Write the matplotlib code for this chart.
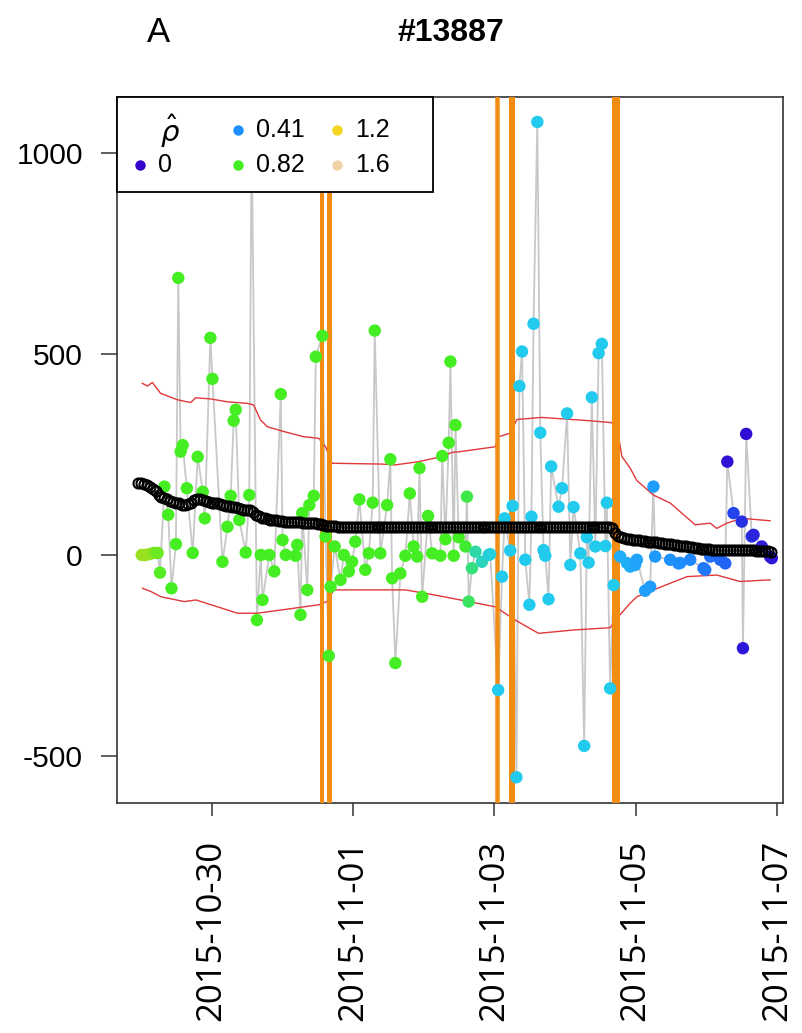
import numpy as np
import pandas as pd
import matplotlib
matplotlib.use("Agg")
import matplotlib.pyplot as plt
from matplotlib.colors import LinearSegmentedColormap, Normalize
from matplotlib.patches import Rectangle

plt.rcParams['axes.unicode_minus'] = False

# ---------------- data (hours since 2015-10-28 00:00) ----------------
BASE = pd.Timestamp("2015-10-28 00:00")

obs_hours = [
    24.3, 25.6, 27.0, 28.3, 29.7, 30.5, 32.0, 33.3, 34.4, 35.9,
    36.7, 37.5, 38.2, 39.6, 41.6, 43.3, 45.0, 45.7, 47.6, 48.3,
    51.7, 53.4, 54.5, 55.5, 56.2, 57.4, 59.6, 60.8, 61.6, 63.4,
    64.7, 65.3, 67.6, 69.3, 71.5, 72.1, 73.2, 76.5, 77.1, 78.2,
    78.8, 80.5, 81.2, 82.7, 83.4, 85.6, 86.7, 87.8, 88.4, 89.8,
    91.8, 92.9, 94.6, 95.7, 96.8, 98.2, 100.2, 101.4, 102.7, 103.4,
    105.3, 107.6, 108.7, 109.3, 110.4, 112.1, 113.8, 115.3, 116.6, 117.8,
    118.6, 119.5, 121.5, 122.9, 125.7, 126.3, 127.4, 128.5, 129.1, 130.2,
    130.8, 131.9, 134.2, 134.7, 135.3, 136.4, 137.6, 139.8, 142.1, 142.6,
    145.3, 146.6, 147.5, 149.4, 150.2, 151.5, 152.5, 153.4, 154.5, 155.9,
    156.6, 157.3, 158.6, 159.6, 160.7, 161.3, 162.4, 163.3, 165.8, 167.0,
    168.7, 169.8, 170.9, 173.2, 174.5, 175.4, 176.0, 177.1, 178.3, 179.4,
    180.5, 181.7, 182.2, 183.3, 184.5, 186.7, 189.0, 190.1, 191.8, 192.4,
    195.2, 196.9, 198.0, 198.6, 203.7, 206.5, 207.1, 210.5, 215.0, 215.6,
    217.3, 220.7, 222.4, 223.1, 225.2, 228.0, 228.4, 229.5, 231.4, 232.0,
    234.8, 237.6, 238.2,
]
obs_values = [
    0, 0, 2, 5, 5, -44, 170, 100, -83, 27,
    689, 257, 273, 166, 5, 244, 157, 91, 540, 438,
    -17, 70, 147, 334, 361, 87, 6, 149, 1050, -162,
    0, -112, 0, -41, 400, 37, 0, -2, 25, -149,
    104, -87, 124, 147, 493, 545, 46, -251, -79, 21,
    -62, 0, -41, -17, 33, 138, -37, 4, 130, 558,
    4, 124, 238, -58, -269, -46, -2, 153, 21, -4,
    216, -104, 97, 4, -2, 246, 39, 279, 481, -2,
    323, 44, 21, 145, -116, -33, 8, -17, 0, 2,
    -336, -54, 91, 11, 122, -553, 420, 506, -12, -124,
    95, 575, 1077, 304, 12, -2, -110, 220, 120, 166,
    352, -25, 119, 4, -475, 44, -19, 392, 21, 502,
    525, 22, 130, -332, -75, -4, -20, -29, -25, -12,
    -89, -79, 170, -4, -12, -21, -20, -12, -33, -37,
    -4, -12, -21, 232, 104, 83, -232, 301, 46, 50,
    21, -4, -8,
]
obs_rho = [
    1.0, 1.0, 1.0, 0.95, 0.9, 0.85, 0.82, 0.82, 0.82, 0.82,
    0.82, 0.82, 0.82, 0.82, 0.82, 0.82, 0.82, 0.82, 0.82, 0.82,
    0.82, 0.82, 0.82, 0.82, 0.82, 0.82, 0.82, 0.82, 0.82, 0.82,
    0.82, 0.82, 0.82, 0.82, 0.82, 0.82, 0.82, 0.82, 0.82, 0.82,
    0.82, 0.82, 0.82, 0.82, 0.82, 0.82, 0.82, 0.82, 0.82, 0.82,
    0.82, 0.82, 0.82, 0.82, 0.82, 0.82, 0.82, 0.82, 0.82, 0.82,
    0.82, 0.82, 0.82, 0.82, 0.82, 0.82, 0.82, 0.82, 0.82, 0.82,
    0.82, 0.82, 0.82, 0.82, 0.82, 0.82, 0.82, 0.82, 0.82, 0.82,
    0.82, 0.82, 0.8, 0.78, 0.75, 0.72, 0.68, 0.65, 0.62, 0.62,
    0.6, 0.6, 0.6, 0.6, 0.6, 0.6, 0.6, 0.6, 0.6, 0.6,
    0.6, 0.6, 0.6, 0.6, 0.6, 0.6, 0.6, 0.6, 0.6, 0.6,
    0.6, 0.6, 0.6, 0.6, 0.6, 0.6, 0.6, 0.6, 0.6, 0.6,
    0.6, 0.6, 0.6, 0.6, 0.6, 0.5, 0.5, 0.5, 0.48, 0.47,
    0.46, 0.45, 0.45, 0.44, 0.42, 0.4, 0.4, 0.38, 0.33, 0.32,
    0.3, 0.28, 0.25, 0.04, 0.15, 0.1, 0.05, 0.03, 0.1, 0.08,
    0.06, 0.05, 0.05,
]

# smoothed level (black open circles), hourly from hour 23 to hour 238
level_start_hour = 23
level_values = [
    180, 178, 176, 174, 170, 165, 158, 150, 145, 142,
    138, 135, 132, 130, 128, 125, 124, 126, 130, 136,
    140, 138, 136, 134, 132, 130, 129, 128, 126, 124,
    122, 121, 120, 118, 116, 114, 112, 112, 111, 106,
    100, 96, 93, 91, 89, 88, 87, 86, 85, 84,
    83, 83, 82, 82, 81, 81, 80, 80, 80, 79,
    79, 78, 78, 74, 72, 71,
    71, 71, 70, 70, 70, 70, 70, 70, 70, 70,
    70, 70, 70, 70, 70, 70, 70, 70, 70, 70,
    70, 70, 70, 70, 70, 70, 70, 70, 70, 70,
    70, 70, 70, 70, 70, 70, 70, 70, 70, 70,
    70, 70, 70, 70, 70, 70, 70, 70, 70, 70,
    70, 70, 70, 70, 70, 70, 70, 70, 70, 70,
    70, 70, 70, 70, 70, 70, 70, 70, 70, 70,
    70, 70, 70, 70, 70, 70, 70, 70, 70, 70,
    70, 70, 70, 70, 70, 70, 70, 70, 70, 70,
    70, 70, 70, 70, 70,
    66, 55, 48, 44, 42, 40, 39, 38, 37, 36,
    35, 34, 33, 33, 32, 31, 30, 29, 28, 27,
    26, 25, 24, 23, 22, 21, 20, 19, 18, 17,
    16, 15, 14, 14, 13, 13, 12, 12, 12, 12,
    12, 12, 12, 12, 12, 12, 12, 12, 12, 11,
    10, 10, 9, 9, 8,
]

upper_hours = [24.5, 26.2, 27.9, 30.7, 36.4, 40.9, 42.6, 47.7, 53.3, 60.1,
               62.3, 64.6, 66.9, 72.5, 79.3, 84.4, 86.7, 88.9, 105.9, 110.4,
               118.3, 126.3, 129.6, 132.5, 144.3, 145.5, 149.4, 151.7, 160.2, 176.0,
               183.9, 186.2, 187.3, 190.1, 192.4, 198.0, 203.7, 212.2, 217.3, 219.5,
               222.9, 228.0, 237.6]
upper_values = [427, 420, 429, 402, 386, 379, 391, 388, 381, 377,
                373, 336, 319, 307, 294, 290, 269, 228, 226, 224,
                232, 245, 255, 257, 269, 294, 303, 337, 342, 334,
                329, 294, 245, 216, 185, 149, 129, 75, 79, 66,
                79, 91, 85]
lower_hours = [24.6, 27.4, 30.8, 38.7, 42.7, 50.0, 56.8, 63.6, 75.5, 84.4,
               87.2, 89.5, 113.8, 124.0, 132.5, 144.3, 151.1, 159.0, 170.4, 183.3,
               186.2, 190.1, 192.4, 198.0, 209.4, 219.5, 227.4, 237.6]
lower_values = [-83, -91, -104, -116, -112, -129, -145, -145, -133, -124,
                -116, -87, -87, -100, -112, -129, -162, -195, -187, -181,
                -153, -120, -104, -87, -54, -50, -66, -62]

change_hours = [85.4, 87.8, 144.9, 150.1, 185.3]
change_widths_px = [4, 5, 4.5, 6, 8]

legend_rho = [0, 0.41, 0.82, 1.2, 1.6]
legend_labels = ["0", "0.41", "0.82", "1.2", "1.6"]

tick_dates = ["2015-10-30", "2015-11-01", "2015-11-03", "2015-11-05", "2015-11-07"]
ytick_values = [-500, 0, 500, 1000]

title = "#13887"
panel = "A"


def to_time(h):
    return BASE + pd.to_timedelta(np.asarray(h, dtype=float), unit="h")


cmap = LinearSegmentedColormap.from_list(
    "rho",
    [(0.0, "#3300cc"), (0.15 / 1.6, "#2247ee"), (0.41 / 1.6, "#1e90ff"),
     (0.6 / 1.6, "#22ccee"), (0.82 / 1.6, "#44ee22"), (1.2 / 1.6, "#f5d520"),
     (1.0, "#f2d3a8")])
norm = Normalize(0, 1.6)

# ---------------- figure ----------------
W, H = 803, 1033
AX_L, AX_R, AX_T, AX_B = 117, 783, 97, 803
fig = plt.figure(figsize=(W / 100, H / 100), dpi=100)
ax = fig.add_axes([AX_L / W, 1 - AX_B / H, (AX_R - AX_L) / W, (AX_B - AX_T) / H])

t_obs = to_time(obs_hours)
ax.plot(t_obs, obs_values, color="#c8c8c8", lw=1.3, zorder=1)
ax.plot(to_time(upper_hours), upper_values, color="#e0393a", lw=1.0, zorder=2)
ax.plot(to_time(lower_hours), lower_values, color="#e0393a", lw=1.0, zorder=2)
for h, w in zip(change_hours, change_widths_px):
    ax.axvline(to_time([h])[0], color="#f28c12", lw=w * 0.72, zorder=3)

ax.scatter(t_obs, obs_values, c=[cmap(norm(r)) for r in obs_rho], s=80,
           marker="o", edgecolors="none", zorder=4)

level_t = to_time(np.arange(level_start_hour, level_start_hour + len(level_values)))
ax.plot(level_t, level_values, linestyle="none", marker="o", markersize=7.2,
        markerfacecolor="none", markeredgecolor="black", markeredgewidth=1.5, zorder=5)

ax.set_xlim(to_time([15.9])[0], to_time([242.0])[0])
ax.set_ylim(-617, 1139)
ax.set_yticks(ytick_values)
ax.set_yticklabels([str(v) for v in ytick_values], fontsize=21.6, family="Liberation Sans")
ax.set_xticks(pd.to_datetime(tick_dates))
ax.set_xticklabels(tick_dates, rotation=90, fontsize=25, family="Open Sans")
ax.tick_params(axis="y", length=11.5, width=1.1, pad=13, color="#333333")
ax.tick_params(axis="x", length=9.5, width=1.1, pad=17, color="#333333")
for s in ax.spines.values():
    s.set_linewidth(1.2)
    s.set_color("#333333")


# ---------------- legend (drawn as a boxed key in axes fraction) ----------------
def afx(px):
    return (px - AX_L) / (AX_R - AX_L)


def afy(py):
    return (AX_B - py) / (AX_B - AX_T)


box = Rectangle((afx(117), afy(192)), afx(433) - afx(117), afy(97) - afy(192),
                transform=ax.transAxes, facecolor="white", edgecolor="black",
                linewidth=1.3, zorder=10, clip_on=False)
ax.add_patch(box)
row_y = [afy(130), afy(165)]
dot_x = [afx(140), afx(238), afx(337)]
txt_x = [afx(158), afx(256), afx(355)]
slots = [(0, 1), (1, 0), (1, 1), (2, 0), (2, 1)]
ax.text(afx(160), afy(131), r"$\hat{\rho}$", transform=ax.transAxes, fontsize=21,
        ha="left", va="center", zorder=11)
for (c, r), rho, lab in zip(slots, legend_rho, legend_labels):
    ax.plot([dot_x[c]], [row_y[r]], transform=ax.transAxes, marker="o", markersize=7.5,
            markerfacecolor=cmap(norm(rho)), markeredgecolor="none", linestyle="none",
            zorder=11, clip_on=False)
    ax.text(txt_x[c], row_y[r], lab, transform=ax.transAxes, fontsize=18,
            family="Liberation Sans", ha="left", va="center", zorder=11)

fig.text(451 / W, 1 - 33 / H, title, fontsize=23, fontweight="bold",
         family="Liberation Sans", ha="center", va="center")
fig.text(159 / W, 1 - 32 / H, panel, fontsize=25, family="Liberation Sans",
         ha="center", va="center")

fig.savefig("out.png", dpi=100)
